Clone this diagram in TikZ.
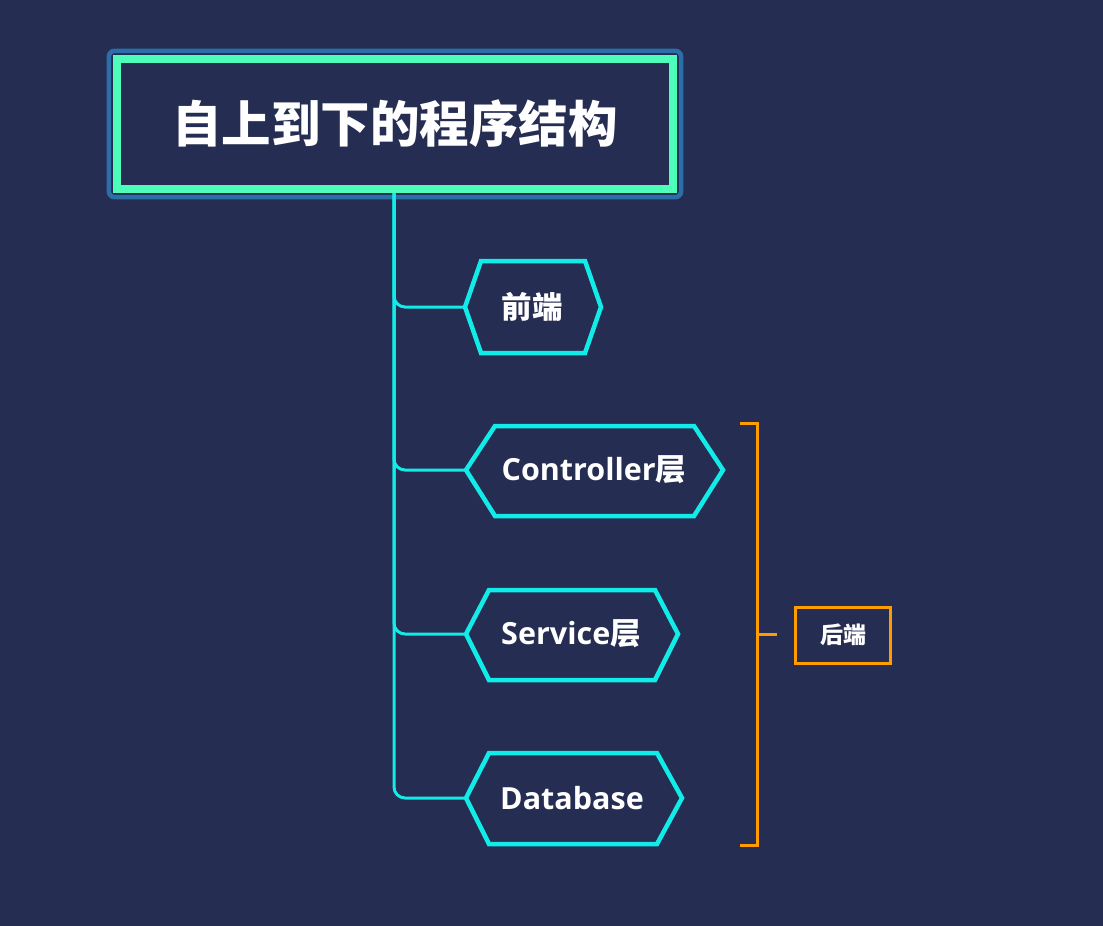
\documentclass[tikz,border=0pt]{standalone}
\usepackage{fontspec}
\setmainfont{Open Sans}
\newfontfamily\cjk{Noto Sans CJK SC}
\usetikzlibrary{fit}
\definecolor{bgc}{RGB}{37,45,82}
\definecolor{mint}{RGB}{79,253,186}
\definecolor{frameblue}{RGB}{44,110,168}
\definecolor{cyanl}{RGB}{18,236,232}
\definecolor{orangel}{RGB}{255,157,0}
\tikzset{
  conn/.style={draw=cyanl, line width=3pt, rounded corners=11pt},
  hexa/.style={draw=cyanl, line width=4.5pt, line join=miter, fill=bgc},
  hlabel/.style={text=white, font=\fontsize{30.5}{34}\selectfont\bfseries, inner sep=0pt},
  brk/.style={draw=orangel, line width=3pt},
}
\begin{document}
\begin{tikzpicture}[x=1pt,y=-1pt]
\fill[bgc] (0,0) rectangle (1103,926);
\useasboundingbox (0,0) rectangle (1103,926);

% title
\node[draw=mint, line width=8pt, fill=bgc, minimum width=556pt, minimum height=130pt,
      inner sep=0pt, text=white, font=\fontsize{49.5}{54}\selectfont\cjk\bfseries]
  (title) at (395,124) {自上到下的程序结构};
\node[fit=(title), draw=frameblue, line width=4.5pt, rounded corners=6pt, inner sep=4.2pt] (titleframe) {};
\coordinate (trunk) at ([xshift=-1pt]title.south);

% hexagon tips
\coordinate (fe) at (465,307);
\coordinate (ct) at (466,470);
\coordinate (sv) at (466,634);
\coordinate (db) at (466,798);

% connectors
\draw[conn] (trunk) |- (db);
\draw[conn] (trunk) |- (sv);
\draw[conn] (trunk) |- (ct);
\draw[conn] (trunk) |- (fe);

% hexagons
\draw[hexa] (fe) -- (481,261) -- (585,261) -- (601,307) -- (585,353) -- (481,353) -- cycle;
\node[hlabel] (fetxt) at (532,307) {\cjk 前端};

\draw[hexa] (ct) -- (495,426) -- (694,426) -- (723,470) -- (694,516) -- (495,516) -- cycle;
\node[hlabel] (cttxt) at (594,470) {Controller{\cjk 层}};

\draw[hexa] (sv) -- (489,590) -- (655,590) -- (678,634) -- (655,680) -- (489,680) -- cycle;
\node[hlabel] (svtxt) at (571,634) {Service{\cjk 层}};

\draw[hexa] (db) -- (489,753) -- (657,753) -- (682,798) -- (657,844) -- (489,844) -- cycle;
\node[hlabel] (dbtxt) at (572,798) {Database};

% bracket
\coordinate (btop) at (740,423);
\coordinate (bbot) at (740,845);
\coordinate (bmid) at (757,634);
\coordinate (bend) at (777,634);
\draw[brk] (btop) -- (757,423) -- (757,845) -- (bbot);
\draw[brk] (bmid) -- (bend);

\node[draw=orangel, line width=3pt, minimum width=95pt, minimum height=56pt, inner sep=0pt,
      text=white, font=\fontsize{23}{26}\selectfont\cjk\bfseries] (be) at (843,635) {后端};
\end{tikzpicture}
\end{document}
